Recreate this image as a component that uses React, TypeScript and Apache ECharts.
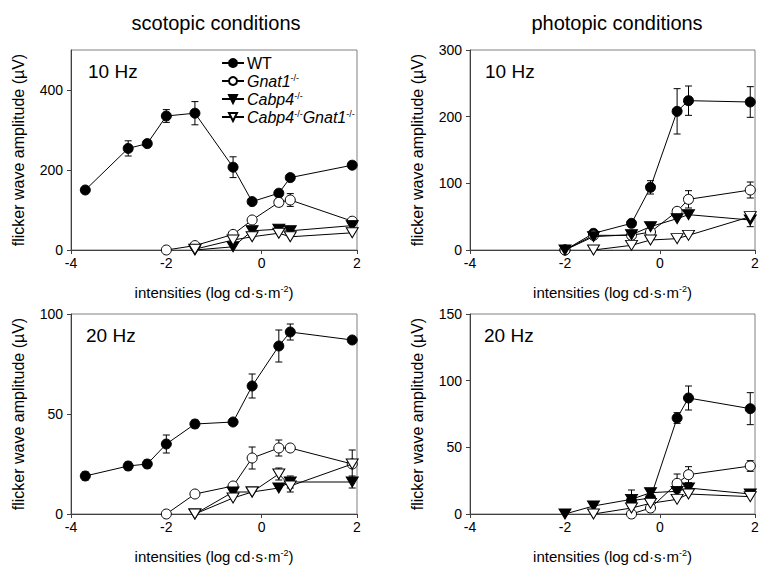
import React, { useEffect, useRef } from "react";
import * as echarts from "echarts";

// log intensities (log cd·s·m-2)
const intensities = [-3.7, -2.8, -2.4, -2.0, -1.4, -0.6, -0.2, 0.36, 0.6, 1.9];
const xTicks = [-4, -2, 0, 2];

// scotopic 10 Hz
const scot10WT = [150, 254, 266, 335, 342, 207, 121, 142, 181, 212];
const scot10WTErr = [0, 19, 8, 16, 29, 26, 5, 5, 5, 8];
const scot10Gnat1 = [null, null, null, 0, 11, 39, 75, 119, 125, 72];
const scot10Gnat1Err = [0, 0, 0, 0, 0, 0, 0, 10, 16, 5];
const scot10Cabp4 = [null, null, null, null, 0, 8, 48, 52, 48, 61];
const scot10Cabp4Err = [0, 0, 0, 0, 0, 0, 0, 0, 0, 0];
const scot10Double = [null, null, null, null, 2, 25, 33, 42, 33, 43];
const scot10DoubleErr = [0, 0, 0, 0, 0, 0, 0, 0, 0, 0];

// photopic 10 Hz
const phot10WT = [null, null, null, 0, 25, 40, 94, 208, 224, 222];
const phot10WTErr = [0, 0, 0, 0, 3, 4, 10, 34, 22, 23];
const phot10Gnat1 = [null, null, null, 0, 22, 22, 27, 58, 76, 90];
const phot10Gnat1Err = [0, 0, 0, 0, 0, 0, 0, 5, 13, 12];
const phot10Cabp4 = [null, null, null, 0, 20, 23, 35, 47, 53, 45];
const phot10Cabp4Err = [0, 0, 0, 0, 0, 0, 0, 0, 0, 10];
const phot10Double = [null, null, null, null, 0, 7, 15, 17, 22, 50];
const phot10DoubleErr = [0, 0, 0, 0, 0, 0, 0, 0, 0, 0];

// scotopic 20 Hz
const scot20WT = [19, 24, 25, 35, 45, 46, 64, 84, 91, 87];
const scot20WTErr = [2, 2, 2, 4.5, 2, 1, 6, 8, 4, 1];
const scot20Gnat1 = [null, null, null, 0, 10, 14, 28, 33, 33, 25];
const scot20Gnat1Err = [0, 0, 0, 0, 0, 0, 5.5, 4, 0, 7];
const scot20Cabp4 = [null, null, null, null, 0, 11, 11, 13, 16, 16];
const scot20Cabp4Err = [0, 0, 0, 0, 0, 0, 0, 0, 3, 3];
const scot20Double = [null, null, null, null, 0, 8, 11, 20, 14, 25];
const scot20DoubleErr = [0, 0, 0, 0, 0, 0, 0, 3, 3, 0];

// photopic 20 Hz
const phot20WT = [null, null, null, null, null, 10, 12, 72, 87, 79];
const phot20WTErr = [0, 0, 0, 0, 0, 8, 4, 4, 9, 12];
const phot20Gnat1 = [null, null, null, null, null, 0, 4.5, 23, 29.5, 36];
const phot20Gnat1Err = [0, 0, 0, 0, 0, 0, 0, 7, 6, 4];
const phot20Cabp4 = [null, null, null, 0, 6, 11, 16, 17, 19.5, 15];
const phot20Cabp4Err = [0, 0, 0, 0, 0, 0, 0, 0, 0, 0];
const phot20Double = [null, null, null, null, 0, 4.5, 8, 11, 15, 13];
const phot20DoubleErr = [0, 0, 0, 0, 0, 0, 0, 0, 0, 0];

const seriesNames = ["WT", "Gnat1", "Cabp4", "Cabp4Gnat1"];
const panelLabels = ["10 Hz", "10 Hz", "20 Hz", "20 Hz"];
const columnTitles = ["scotopic conditions", "photopic conditions"];
const yMax = [500, 300, 100, 150];
const yInterval = [200, 100, 50, 50];
const yTickValues = [[0, 200, 400], [0, 100, 200, 300], [0, 50, 100], [0, 50, 100, 150]];

const panels = [
  { values: [scot10WT, scot10Gnat1, scot10Cabp4, scot10Double], errs: [scot10WTErr, scot10Gnat1Err, scot10Cabp4Err, scot10DoubleErr] },
  { values: [phot10WT, phot10Gnat1, phot10Cabp4, phot10Double], errs: [phot10WTErr, phot10Gnat1Err, phot10Cabp4Err, phot10DoubleErr] },
  { values: [scot20WT, scot20Gnat1, scot20Cabp4, scot20Double], errs: [scot20WTErr, scot20Gnat1Err, scot20Cabp4Err, scot20DoubleErr] },
  { values: [phot20WT, phot20Gnat1, phot20Cabp4, phot20Double], errs: [phot20WTErr, phot20Gnat1Err, phot20Cabp4Err, phot20DoubleErr] },
];

const FONT = "'Liberation Sans', Arial, sans-serif";

const symbolStyles = [
  { symbol: "circle", symbolSize: 10, symbolRotate: 0, fill: "#000" },
  { symbol: "circle", symbolSize: 10, symbolRotate: 0, fill: "#fff" },
  { symbol: "triangle", symbolSize: [12, 10], symbolRotate: 180, fill: "#000" },
  { symbol: "triangle", symbolSize: [12, 10], symbolRotate: 180, fill: "#fff" },
];

const gridRects = [
  { left: 71, top: 50, width: 286, height: 200 },
  { left: 470, top: 50, width: 285, height: 200 },
  { left: 71, top: 314, width: 286, height: 200 },
  { left: 470, top: 314, width: 285, height: 200 },
];

function buildOption() {
  const grids = gridRects.map((g) => ({
    ...g,
    show: true,
    borderColor: "#808080",
    borderWidth: 1,
    backgroundColor: "transparent",
  }));
  const xAxes = gridRects.map((_, i) => ({
    type: "value",
    gridIndex: i,
    min: -4,
    max: 2,
    interval: 2,
    splitLine: { show: false },
    axisLine: { show: true, onZero: false, lineStyle: { color: "#404040", width: 1 } },
    axisTick: { show: true, inside: false, length: 4, lineStyle: { color: "#404040" }, customValues: xTicks },
    axisLabel: { color: "#000", fontSize: 14, fontFamily: FONT, margin: 6, customValues: xTicks },
    name: "intensities (log cd·s·m{s|-2})",
    nameLocation: "middle",
    nameGap: 34,
    nameTextStyle: {
      color: "#000",
      fontSize: 15,
      fontFamily: FONT,
      rich: { s: { fontSize: 9, fontFamily: FONT, color: "#000", padding: [0, 0, 7, 0] } },
    },
  }));
  const yAxes = gridRects.map((_, i) => ({
    type: "value",
    gridIndex: i,
    min: 0,
    max: yMax[i],
    interval: yInterval[i],
    splitLine: { show: false },
    axisLine: { show: true, onZero: false, lineStyle: { color: "#404040", width: 1 } },
    axisTick: { show: true, inside: false, length: 4, lineStyle: { color: "#404040" }, customValues: yTickValues[i] },
    axisLabel: { color: "#000", fontSize: 14, fontFamily: FONT, margin: 8, customValues: yTickValues[i] },
    name: "flicker wave amplitude (µV)",
    nameLocation: "middle",
    nameGap: 45,
    nameTextStyle: { color: "#000", fontSize: 16, fontFamily: FONT },
  }));

  const series: any[] = [];
  panels.forEach((p, pi) => {
    // error bars
    p.values.forEach((vals, si) => {
      const errData: number[][] = [];
      vals.forEach((v, k) => {
        const e = p.errs[si][k];
        if (v !== null && e > 0) errData.push([intensities[k], (v as number) - e, (v as number) + e]);
      });
      if (errData.length) {
        series.push({
          type: "custom",
          xAxisIndex: pi,
          yAxisIndex: pi,
          z: 1,
          silent: true,
          encode: { x: 0, y: [1, 2] },
          data: errData,
          renderItem: (params: any, api: any) => {
            const x = api.value(0);
            const lo = api.coord([x, api.value(1)]);
            const hi = api.coord([x, api.value(2)]);
            const cw = 3.5;
            const st = { stroke: "#000", lineWidth: 1 };
            return {
              type: "group",
              children: [
                { type: "line", shape: { x1: lo[0], y1: lo[1], x2: hi[0], y2: hi[1] }, style: st },
                { type: "line", shape: { x1: lo[0] - cw, y1: lo[1], x2: lo[0] + cw, y2: lo[1] }, style: st },
                { type: "line", shape: { x1: hi[0] - cw, y1: hi[1], x2: hi[0] + cw, y2: hi[1] }, style: st },
              ],
            };
          },
        });
      }
    });
    p.values.forEach((vals, si) => {
      const st = symbolStyles[si];
      const data: any[] = [];
      vals.forEach((v, k) => {
        if (v !== null) data.push([intensities[k], v]);
      });
      series.push({
        type: "line",
        name: seriesNames[si],
        xAxisIndex: pi,
        yAxisIndex: pi,
        z: 2 + si * 0.01,
        data,
        symbol: st.symbol,
        symbolSize: st.symbolSize,
        symbolRotate: st.symbolRotate,
        showAllSymbol: true,
        clip: false,
        lineStyle: { color: "#000", width: 1 },
        itemStyle: { color: st.fill, borderColor: "#000", borderWidth: 1 },
        emphasis: { disabled: true },
      });
    });
  });

  const labelPos = [
    { x: 88, y: 62 },
    { x: 485, y: 62 },
    { x: 86, y: 326 },
    { x: 484, y: 326 },
  ];

  return {
    animation: false,
    backgroundColor: "#fff",
    title: [
      { text: columnTitles[0], left: 211, top: 8, textAlign: "center", textStyle: { color: "#000", fontSize: 20, fontWeight: "normal", fontFamily: FONT } },
      { text: columnTitles[1], left: 612, top: 8, textAlign: "center", textStyle: { color: "#000", fontSize: 20, fontWeight: "normal", fontFamily: FONT } },
    ],
    legend: {
      show: true,
      orient: "vertical",
      left: 216,
      top: 50,
      itemWidth: 22,
      itemHeight: 10,
      itemGap: 2,
      data: seriesNames,
      selectedMode: false,
      formatter: (name: string) => {
        if (name === "WT") return "{n|WT}";
        if (name === "Gnat1") return "{i|Gnat1}{s|-/-}";
        if (name === "Cabp4") return "{i|Cabp4}{s|-/-}";
        return "{i|Cabp4}{s|-/-}{i|Gnat1}{s|-/-}";
      },
      textStyle: {
        color: "#000",
        fontSize: 16,
        fontFamily: FONT,
        padding: [0, 0, 0, -2],
        rich: {
          n: { fontSize: 16, fontFamily: FONT, color: "#000", lineHeight: 18 },
          i: { fontSize: 16, fontStyle: "italic", fontFamily: FONT, color: "#000", lineHeight: 18 },
          s: { fontSize: 9, fontFamily: FONT, color: "#000", padding: [0, 0, 7, 0], lineHeight: 18 },
        },
      },
    },
    grid: grids,
    xAxis: xAxes,
    yAxis: yAxes,
    graphic: panelLabels.map((t, i) => ({
      type: "text",
      x: labelPos[i].x,
      y: labelPos[i].y,
      style: { text: t, fontSize: 19, fontFamily: FONT, fill: "#000", textVerticalAlign: "top" },
      z: 10,
    })),
    series,
  };
}

export default function App() {
  const ref = useRef<HTMLDivElement>(null);
  useEffect(() => {
    if (!ref.current) return;
    const chart = echarts.init(ref.current, null, { renderer: "svg" });
    chart.setOption(buildOption() as any);
    return () => chart.dispose();
  }, []);
  return (
    <div
      ref={ref}
      style={{ position: "fixed", left: 0, top: 0, width: 771, height: 580, background: "#fff" }}
    />
  );
}
